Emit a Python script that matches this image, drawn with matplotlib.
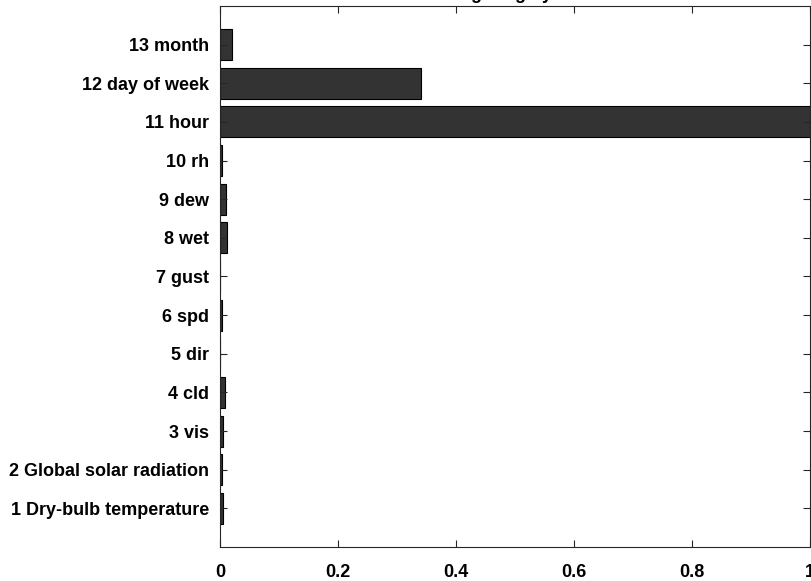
import matplotlib
matplotlib.use("Agg")
import matplotlib.pyplot as plt

# Feature weights
features = [
    "1 Dry-bulb temperature",
    "2 Global solar radiation",
    "3 vis",
    "4 cld",
    "5 dir",
    "6 spd",
    "7 gust",
    "8 wet",
    "9 dew",
    "10 rh",
    "11 hour",
    "12 day of week",
    "13 month",
]
weights = [0.005, 0.003, 0.005, 0.008, 0.0003, 0.003, 0.0005,
           0.012, 0.010, 0.003, 1.0, 0.34, 0.020]
positions = list(range(1, len(features) + 1))

plt.rcParams["font.family"] = ["Liberation Sans", "DejaVu Sans"]
plt.rcParams["font.weight"] = "bold"

fig = plt.figure(figsize=(8.11, 5.81), dpi=100)
ax = fig.add_axes([0.2713, 0.0585, 0.7275, 0.9312])

ax.barh(positions, weights, height=0.8, color="#333333",
        edgecolor="black", linewidth=0.8)

ax.set_xlim(0, 1)
ax.set_ylim(0, 14)
ax.set_yticks(positions)
ax.set_yticklabels(features)
ax.set_xticks([0, 0.2, 0.4, 0.6, 0.8, 1])
ax.set_xticklabels(["0", "0.2", "0.4", "0.6", "0.8", "1"])

ax.tick_params(direction="in", top=True, right=True, length=5,
               width=0.8, color="#262626", labelsize=13)
ax.tick_params(axis="x", pad=12)
ax.tick_params(axis="y", pad=8)
for s in ax.spines.values():
    s.set_color("#262626")
    s.set_linewidth(0.8)

# title sits mostly above the figure edge, like in the original
fig.text(0.61, 1.002, "Feature weighting by ReliefF",
         ha="center", va="baseline", fontsize=13, fontweight="bold")

fig.savefig("out.png", dpi=100)
